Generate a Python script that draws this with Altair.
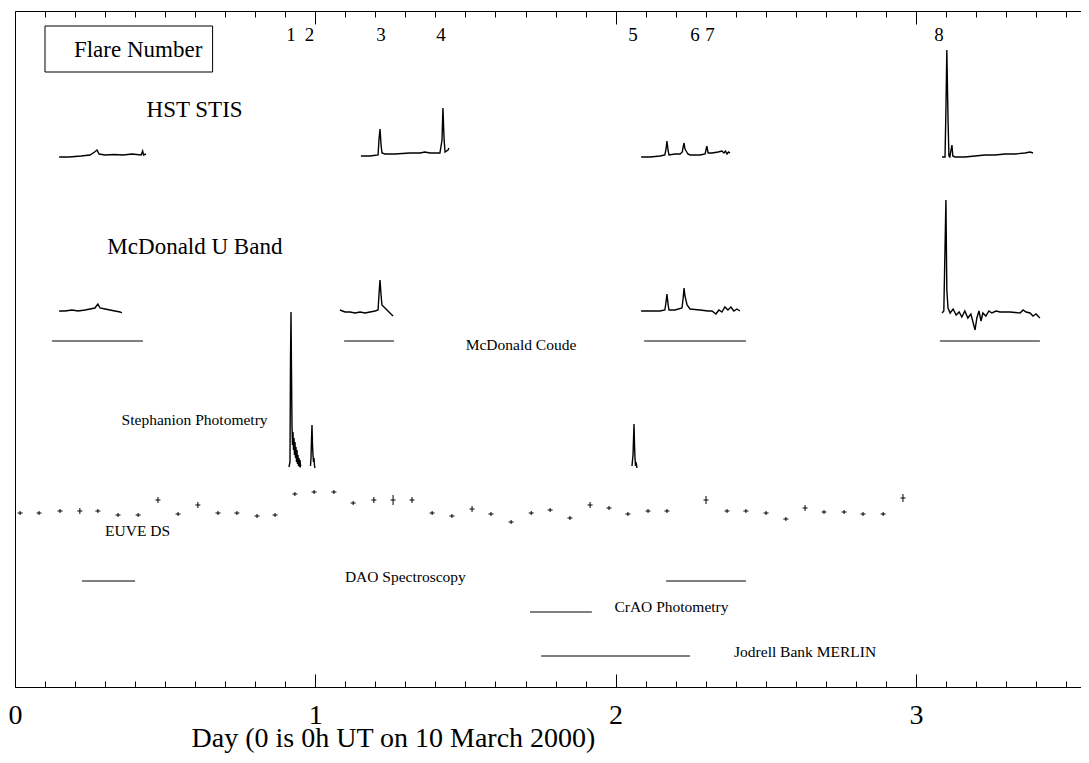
import altair as alt
import pandas as pd

FONT = "Liberation Serif"

# ---------------- light curves (day, offset flux in arbitrary units) ----------------
hst1_t = [0.147, 0.180, 0.220, 0.250, 0.265, 0.273, 0.280, 0.300, 0.330, 0.360, 0.390, 0.420, 0.425, 0.428, 0.436]
hst1_y = [530, 530, 531, 532, 535, 537, 533, 532, 532.5, 532, 533, 532, 536, 532, 533]

hst2_t = [1.152, 1.182, 1.209, 1.212, 1.2155, 1.219, 1.222, 1.232, 1.265, 1.315, 1.349, 1.365, 1.382, 1.415, 1.422, 1.425, 1.429, 1.432, 1.442, 1.445]
hst2_y = [531, 531, 532, 547, 558, 542, 534, 533, 533, 534, 534, 535, 534, 534, 547, 579, 547, 535, 537, 539]

hst3_t = [2.085, 2.115, 2.148, 2.164, 2.168, 2.171, 2.175, 2.178, 2.198, 2.215, 2.222, 2.225, 2.228, 2.231, 2.235, 2.241, 2.248, 2.281, 2.298, 2.301, 2.304, 2.308, 2.321, 2.341, 2.354, 2.361, 2.366, 2.371, 2.376, 2.381]
hst3_y = [530, 530, 531, 532, 538, 546, 536, 532, 533, 533, 535, 540, 544, 538, 536, 533, 532, 532, 533, 537, 541, 534, 534, 535, 536, 534, 536, 533, 535, 534]

hst4_t = [3.087, 3.097, 3.100, 3.103, 3.107, 3.110, 3.113, 3.117, 3.120, 3.123, 3.130, 3.163, 3.197, 3.230, 3.263, 3.297, 3.330, 3.363, 3.380, 3.390]
hst4_y = [530, 530, 577, 637, 567, 531, 530, 537, 542, 531, 530, 530, 531, 532, 532, 533, 533, 534, 535, 534]

mcd1_t = [0.147, 0.166, 0.190, 0.210, 0.233, 0.250, 0.266, 0.276, 0.283, 0.300, 0.316, 0.333, 0.350, 0.356]
mcd1_y = [376, 376, 377, 376, 377, 378, 379, 383, 379, 378, 377, 376, 375, 374]

mcd2_t = [1.082, 1.099, 1.116, 1.132, 1.149, 1.166, 1.182, 1.199, 1.209, 1.212, 1.2155, 1.219, 1.222, 1.232, 1.242, 1.252, 1.259]
mcd2_y = [377, 375, 375, 374, 375, 374, 375, 376, 377, 392, 407, 392, 382, 379, 376, 373, 371]

mcd3_t = [2.085, 2.115, 2.148, 2.164, 2.168, 2.171, 2.175, 2.178, 2.198, 2.221, 2.225, 2.228, 2.231, 2.238, 2.248, 2.281, 2.308, 2.321, 2.334, 2.344, 2.354, 2.364, 2.374, 2.384, 2.394, 2.404, 2.414]
mcd3_y = [376, 376, 376, 377, 385, 393, 382, 377, 377, 379, 389, 399, 391, 382, 378, 377, 376, 376, 373, 377, 375, 380, 377, 380, 376, 378, 376]

mcd4_t = [3.087, 3.093, 3.100, 3.103, 3.107, 3.114, 3.124, 3.134, 3.144, 3.153, 3.163, 3.173, 3.183, 3.190, 3.197, 3.203, 3.210, 3.217, 3.223, 3.233, 3.243, 3.253, 3.267, 3.280, 3.313, 3.347, 3.357, 3.367, 3.380, 3.390, 3.400, 3.413]
mcd4_y = [374, 376, 487, 397, 379, 374, 378, 372, 375, 370, 376, 369, 373, 365, 357, 369, 376, 366, 374, 371, 376, 374, 376, 375, 375, 374, 377, 375, 374, 371, 373, 369]

st1_t = [0.9124, 0.9157, 0.9174, 0.9191, 0.9207, 0.9224, 0.9241, 0.9257, 0.9274, 0.9291, 0.9307, 0.9324, 0.9341, 0.9357, 0.9374, 0.9391, 0.9407, 0.9424, 0.9441, 0.9457, 0.9474, 0.9491, 0.9507, 0.9524]
st1_y = [220, 225, 327, 375, 317, 262, 242, 255, 237, 249, 232, 245, 229, 240, 225, 237, 223, 232, 221, 229, 220, 227, 221, 222]

st2_t = [0.9840, 0.9857, 0.9873, 0.9890, 0.9907, 0.9923, 0.9940, 0.9957, 0.9973, 0.9990]
st2_y = [221, 229, 247, 262, 242, 232, 225, 229, 221, 219]

st3_t = [2.0546, 2.0580, 2.0596, 2.0613, 2.0630, 2.0646, 2.0663, 2.0680, 2.0713]
st3_y = [221, 232, 247, 263, 242, 229, 221, 225, 219]

# ---------------- EUVE DS binned points ----------------
euve_t = [0.017, 0.080, 0.150, 0.216, 0.276, 0.343, 0.410, 0.476, 0.543, 0.609, 0.676, 0.739, 0.806, 0.866, 0.932,
          0.996, 1.062, 1.126, 1.195, 1.259, 1.322, 1.389, 1.455, 1.522, 1.585, 1.652, 1.719, 1.782, 1.848, 1.915,
          1.978, 2.041, 2.108, 2.171, 2.301, 2.371, 2.434, 2.501, 2.567, 2.631, 2.694, 2.761, 2.824, 2.891, 2.957]
euve_y = [174, 174, 176, 176, 176, 172, 172, 187, 173, 182, 174, 174, 171, 172, 193,
          195, 195, 184, 187, 187, 187, 174, 171, 178, 173, 165, 174, 177, 169, 182,
          179, 173, 176, 176, 187, 176, 176, 174, 168, 179, 175, 175, 173, 173, 189]
euve_err = [2, 2, 2, 3, 2, 2, 2, 3, 2, 3, 2, 2, 2, 2, 2,
            2, 2, 2, 3, 5, 3, 2, 2, 3, 2, 2, 2, 2, 2, 3,
            2, 2, 2, 2, 4, 2, 2, 2, 2, 3, 2, 2, 2, 2, 4]
euve_halfbin = 0.0083

# ---------------- coverage bars ----------------
cov_name = ["McDonald Coude"] * 4 + ["DAO"] * 2 + ["CrAO"] + ["Jodrell"]
cov_t1 = [0.123, 1.096, 2.095, 3.080, 0.223, 2.168, 1.715, 1.752]
cov_t2 = [0.426, 1.262, 2.434, 3.413, 0.400, 2.434, 1.921, 2.248]
cov_y = [346, 346, 346, 346, 106, 106, 75, 31]

# ---------------- labels ----------------
big_text = ["HST STIS", "McDonald U Band", "Flare Number"]
big_x = [0.598, 0.599, 0.410]
big_y = [570, 433, 630]

small_text = ["McDonald Coude", "Stephanion Photometry", "EUVE DS", "DAO Spectroscopy", "CrAO Photometry", "Jodrell Bank MERLIN"]
small_x = [1.685, 0.598, 0.408, 1.300, 2.186, 2.631]
small_y = [337, 262, 151, 105, 75, 30]

flare_num = ["1", "2", "3", "4", "5", "6", "7", "8"]
flare_t = [0.919, 0.981, 1.219, 1.419, 2.058, 2.264, 2.314, 3.077]
flare_y = [646] * 8

box_t1, box_t2, box_y1, box_y2 = [0.0999], [0.658], [615], [661]

major_ticks = [0, 1, 2, 3]
minor_ticks = [round(0.1 * i, 1) for i in range(36)]

XMAX, YMAX = 3.5498, 676
W, H = 1066, 676

# ---------------- tables ----------------
series = [("hst1", hst1_t, hst1_y), ("hst2", hst2_t, hst2_y), ("hst3", hst3_t, hst3_y), ("hst4", hst4_t, hst4_y),
          ("mcd1", mcd1_t, mcd1_y), ("mcd2", mcd2_t, mcd2_y), ("mcd3", mcd3_t, mcd3_y), ("mcd4", mcd4_t, mcd4_y),
          ("st1", st1_t, st1_y), ("st2", st2_t, st2_y), ("st3", st3_t, st3_y)]
rows = []
for name, ts, yv in series:
    for i, (t, y) in enumerate(zip(ts, yv)):
        rows.append({"t": t, "y": y, "seg": name, "i": i})
lines_df = pd.DataFrame(rows)
euve_df = pd.DataFrame({"t": euve_t, "y": euve_y, "err": euve_err})
cov_df = pd.DataFrame({"name": cov_name, "t1": cov_t1, "t2": cov_t2, "y": cov_y})
big_df = pd.DataFrame({"text": big_text, "t": big_x, "y": big_y})
small_df = pd.DataFrame({"text": small_text, "t": small_x, "y": small_y})
flare_df = pd.DataFrame({"text": flare_num, "t": flare_t, "y": flare_y})
box_df = pd.DataFrame({"t1": box_t1, "t2": box_t2, "y1": box_y1, "y2": box_y2})

xs = alt.Scale(domain=[0, XMAX], nice=False, zero=False)
ys = alt.Scale(domain=[0, YMAX], nice=False, zero=False)


def X(field, axis=None):
    return alt.X(field, type="quantitative", scale=xs, axis=axis)


def Y(field, axis=None):
    return alt.Y(field, type="quantitative", scale=ys, axis=axis)


lines = alt.Chart(lines_df).mark_line(color="black", strokeWidth=1.4).encode(
    x=X("t"), y=Y("y"), detail="seg:N", order="i:Q")

cov = alt.Chart(cov_df).mark_rule(color="black", strokeWidth=1).encode(
    x=X("t1"), x2="t2", y=Y("y"))

euve_v = alt.Chart(euve_df).transform_calculate(
    lo="datum.y - datum.err", hi="datum.y + datum.err").mark_rule(color="black", strokeWidth=1).encode(
    x=X("t"), y=Y("lo:Q"), y2="hi:Q")
euve_h = alt.Chart(euve_df).transform_calculate(
    a=f"datum.t - {euve_halfbin}", b=f"datum.t + {euve_halfbin}").mark_rule(color="black", strokeWidth=1).encode(
    x=X("a:Q"), x2="b:Q", y=Y("y"))

box = alt.Chart(box_df).mark_rect(fillOpacity=0, stroke="black", strokeWidth=1).encode(
    x=X("t1"), x2="t2", y=Y("y1"), y2="y2")

big = alt.Chart(big_df).mark_text(font=FONT, fontSize=23, align="center", baseline="alphabetic", color="black").encode(
    x=X("t"), y=Y("y"), text="text:N")
small = alt.Chart(small_df).mark_text(font=FONT, fontSize=15.5, align="center", baseline="alphabetic", color="black").encode(
    x=X("t"), y=Y("y"), text="text:N")
flares = alt.Chart(flare_df).mark_text(font=FONT, fontSize=19, align="center", baseline="alphabetic", color="black").encode(
    x=X("t"), y=Y("y"), text="text:N")

tick_test = "abs(datum.value - round(datum.value)) < 0.001"
tick_len = {"condition": {"test": tick_test, "value": 13}, "value": 6}

axis_labels = alt.Axis(orient="bottom", values=major_ticks, ticks=False, tickSize=0, domain=True,
                       domainColor="black", domainWidth=1, grid=False,
                       labelFont=FONT, labelFontSize=28, labelColor="black", labelPadding=14, labelFlush=False,
                       format="d", title="Day (0 is 0h UT on 10 March 2000)", titleFont=FONT, titleFontSize=28,
                       titleFontWeight="normal", titleColor="black", titleX=378, titleY=59, titleAlign="center",
                       titleBaseline="alphabetic", titleAngle=0)
axis_bottom_ticks = alt.Axis(orient="top", offset=-H, values=minor_ticks, labels=False, domain=False, grid=False,
                             ticks=True, tickColor="black", tickWidth=1, tickSize=tick_len, title=None)
axis_top_ticks = alt.Axis(orient="bottom", offset=-H, values=minor_ticks, labels=False, domain=True,
                          domainColor="black", domainWidth=1, grid=False,
                          ticks=True, tickColor="black", tickWidth=1, tickSize=tick_len, title=None)
axis_left = alt.Axis(orient="left", ticks=False, labels=False, domain=True, domainColor="black", domainWidth=1,
                     grid=False, title=None)

carrier = pd.DataFrame({"t": [0.0], "y": [0.0]})
ax1 = alt.Chart(carrier).mark_point(opacity=0).encode(x=X("t", axis_labels), y=Y("y", axis_left))
ax2 = alt.Chart(carrier).mark_point(opacity=0).encode(x=X("t", axis_bottom_ticks), y=Y("y"))
ax3 = alt.Chart(carrier).mark_point(opacity=0).encode(x=X("t", axis_top_ticks), y=Y("y"))

chart = alt.layer(lines, cov, euve_v, euve_h, box, big, small, flares, ax1, ax2, ax3).resolve_axis(
    x="independent", y="independent").properties(
    width=W, height=H,
    padding={"left": 7, "top": 3, "right": 0, "bottom": 68},
    autosize=alt.AutoSizeParams(type="none"),
    background="white",
).configure_view(strokeWidth=0)

chart.save("out.html", embed_options={"renderer": "svg", "actions": False})
